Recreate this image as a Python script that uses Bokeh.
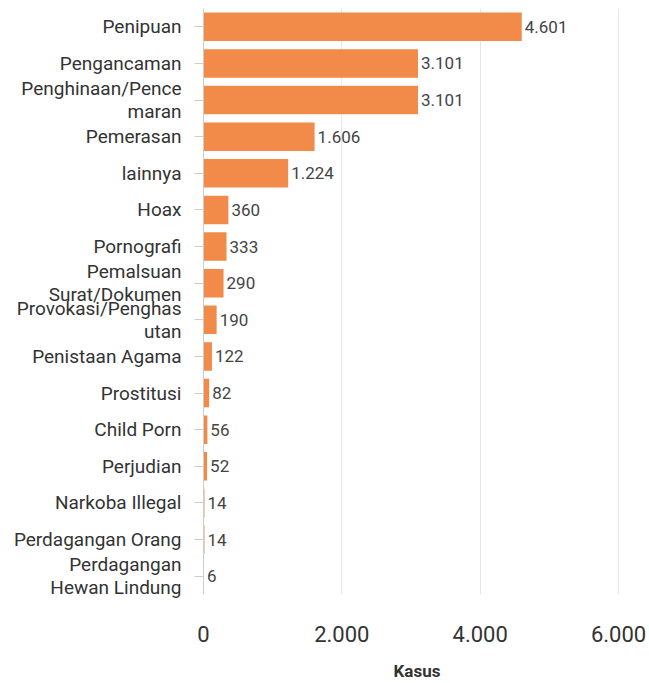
from bokeh.plotting import figure
from bokeh.models import ColumnDataSource, FactorRange, Range1d, FixedTicker
from bokeh.core.properties import value
from bokeh.embed import file_html
from bokeh.resources import INLINE

categories = [
    "Penipuan", "Pengancaman", "Penghinaan/Pence\nmaran", "Pemerasan", "lainnya",
    "Hoax", "Pornografi", "Pemalsuan\nSurat/Dokumen", "Provokasi/Penghas\nutan",
    "Penistaan Agama", "Prostitusi", "Child Porn", "Perjudian", "Narkoba Illegal",
    "Perdagangan Orang", "Perdagangan\nHewan Lindung",
]
values = [4601, 3101, 3101, 1606, 1224, 360, 333, 290, 190, 122, 82, 56, 52, 14, 14, 6]
tick_values = [0, 2000, 4000, 6000]
tick_labels = ["0", "2.000", "4.000", "6.000"]
axis_title = "Kasus"

labels = [f"{v:,}".replace(",", ".") for v in values]
source = ColumnDataSource(dict(cat=categories, val=values, lab=labels))

p = figure(
    width=649, height=683,
    y_range=FactorRange(factors=list(reversed(categories))),
    x_range=Range1d(0, 6173),
    output_backend="svg", toolbar_location=None,
    min_border_left=203, min_border_right=19, min_border_top=8,
)
p.outline_line_color = None

p.hbar(y="cat", right="val", height=0.78, source=source,
       fill_color="#F28A4A", line_color=None)
p.text(x="val", y="cat", text="lab", source=source, x_offset=3,
       text_align="left", text_baseline="middle",
       text_font_size="17px", text_color="#444444", text_font=value("Roboto"))

# x axis
xa = p.xaxis[0]
xa.ticker = FixedTicker(ticks=tick_values)
xa.major_label_overrides = {v: l for v, l in zip(tick_values, tick_labels)}
xa.axis_line_color = None
xa.major_tick_line_color = None
xa.minor_tick_line_color = None
xa.major_label_standoff = 25
xa.major_label_text_font = "Roboto"
xa.major_label_text_font_size = "22px"
xa.major_label_text_color = "#333333"
xa.axis_label = axis_title
xa.axis_label_standoff = 16
xa.axis_label_text_font = "Roboto"
xa.axis_label_text_font_size = "17px"
xa.axis_label_text_font_style = "bold"
xa.axis_label_text_color = "#333333"

# y axis
ya = p.yaxis[0]
ya.axis_line_color = "#cccccc"
ya.major_tick_line_color = "#cccccc"
ya.major_tick_out = 9
ya.major_tick_in = 0
ya.major_label_standoff = 13
ya.major_label_text_font = "Roboto"
ya.major_label_text_font_size = "19px"
ya.major_label_text_color = "#333333"
ya.major_label_text_line_height = 1.0

p.xgrid.grid_line_color = "#e6e6e6"
p.xgrid.ticker = FixedTicker(ticks=[2000, 4000, 6000])
p.ygrid.grid_line_color = None

open("out.html", "w").write(file_html(p, INLINE))
